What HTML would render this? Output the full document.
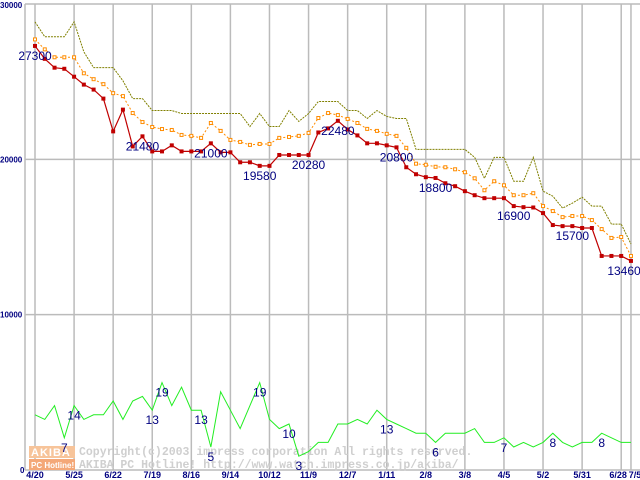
<!DOCTYPE html>
<html><head><meta charset="utf-8"><style>
body{margin:0;background:#fff}
svg{display:block;font-family:"Liberation Sans",sans-serif}
</style></head><body>
<svg id="chart" width="640" height="480" viewBox="0 0 640 480" xmlns="http://www.w3.org/2000/svg">
<g id="grid"></g>
<g id="wm">
<rect x="29" y="446" width="46" height="12" fill="#f7c49a"/>
<text x="31" y="456" font-size="11" font-weight="bold" fill="#fff" letter-spacing="1">AKIBA</text>
<rect x="29" y="459" width="46" height="11" fill="#f4a878"/>
<text x="31" y="468" font-size="8" font-weight="bold" fill="#fff">PC Hotline!</text>
<text x="79" y="455" font-size="11.5" font-weight="bold" fill="#cfcfcf" font-family="Liberation Mono,monospace">Copyright(c)2003 impress corporation All rights reserved.</text>
<text x="79" y="468" font-size="11.5" font-weight="bold" fill="#cfcfcf" font-family="Liberation Mono,monospace">AKIBA PC Hotline!  http://www.watch.impress.co.jp/akiba/</text>
</g>
<g id="series"></g>
<g id="labels"></g>
</svg>
<script>
const xTickLabels=["4/20","5/25","6/22","7/19","8/16","9/14","10/12","11/9","12/7","1/11","2/8","3/8","4/5","5/2","5/31","6/28","7/5"];
const yTicks=[0,10000,20000,30000];
const minPrice=[27300,26470,25900,25830,25320,24810,24490,23910,21800,23200,20830,21480,20510,20510,20900,20510,20510,20510,21030,20450,20450,19810,19810,19580,19580,20280,20280,20280,20280,21730,21990,22480,21920,21540,21030,21030,20900,20770,19490,19040,18850,18800,18460,18270,17950,17690,17500,17500,17500,16990,16920,16900,16540,15770,15700,15700,15580,15580,13780,13780,13780,13460];
const avgPrice=[27720,27080,26570,26570,26570,25540,25160,24840,24260,24070,22980,22400,22080,21950,21890,21570,21510,21380,22340,21830,21250,21120,20930,20990,20990,21380,21440,21510,21700,22660,22980,22850,22600,22340,21960,21830,21640,21510,20740,19720,19650,19520,19490,19360,19170,18780,18010,18590,18330,17690,17690,17820,16990,16670,16280,16350,16350,16090,15510,14940,15000,13780];
const maxPrice=[28850,27890,27890,27890,28850,26920,25900,25900,25900,25060,23910,23910,23140,23140,23140,22950,22950,22950,22950,22950,22950,22950,22110,22950,22110,22110,23140,22440,22950,23720,23720,23720,23140,23140,22630,23140,22760,22630,22630,20640,20640,20640,20640,20640,20640,20130,18780,20130,20130,18590,18590,20130,17950,17630,16860,17180,17560,16990,16990,15830,15830,14550];
const counts=[12,11,14,7,14,11,12,12,15,11,15,16,13,19,14,18,13,13,5,17,13,9,14,19,11,9,10,3,4,6,6,10,10,11,10,13,11,10,9,8,8,6,8,8,8,9,6,6,7,5,6,5,6,8,6,5,6,6,8,7,6,6];
const priceLabels=[[0,"27300"],[11,"21480"],[18,"21000"],[23,"19580"],[28,"20280"],[31,"22480"],[37,"20800"],[41,"18800"],[49,"16900"],[55,"15700"],[61,"13460"]];
const countLabels=[[3,"7"],[4,"14"],[12,"13"],[13,"19"],[17,"13"],[18,"5"],[23,"19"],[26,"10"],[27,"3"],[36,"13"],[41,"6"],[48,"7"],[53,"8"],[58,"8"]];
const NS="http://www.w3.org/2000/svg";
const X=i=>35+i*9.77;
const PY=v=>470-v/30000*466;
const CY=c=>470-c*4.6;
function mk(tag,attrs,parent){const e=document.createElementNS(NS,tag);for(const k in attrs)e.setAttribute(k,attrs[k]);parent.appendChild(e);return e;}
const grid=document.getElementById('grid'),ser=document.getElementById('series'),lab=document.getElementById('labels');
const tickIdx=[];for(let i=0;i<=60;i+=4)tickIdx.push(i);tickIdx.push(61);
tickIdx.forEach((ti,k)=>{
 const l=mk('line',{x1:X(ti),x2:X(ti),y1:4,y2:470,stroke:'#bbb','stroke-width':1.5},grid);
 
 
 const t=mk('text',{x:X(ti)+(k==16?4:(k==15?-3:0)),y:478,'font-size':9,'font-weight':'bold',fill:'#000080','text-anchor':'middle'},grid);
 t.textContent=xTickLabels[k];
 
 
});
yTicks.forEach(v=>{
 const l=mk('line',{x1:25,x2:640,y1:PY(v),y2:PY(v),stroke:'#bbb','stroke-width':1.5},grid);
 
 
 const t=mk('text',{x:v==0?20:0,y:PY(v)+(v==30000?4:3),'font-size':8,'font-weight':'bold',fill:'#000080'},grid);
 t.textContent=String(v);
 
 
});
const ax=mk('line',{x1:25,x2:25,y1:4,y2:470,stroke:'#bbb','stroke-width':1.5},grid);


function poly(arr,yf,attrs,name){
 const p=mk('polyline',Object.assign({points:arr.map((v,i)=>X(i)+','+yf(v)).join(' '),fill:'none'},attrs),ser);
 
 
}
poly(maxPrice,PY,{stroke:'#808000','stroke-width':1,'stroke-dasharray':'2,1'},'max-price-line');
poly(avgPrice,PY,{stroke:'#ff8c00','stroke-width':1,'stroke-dasharray':'2,2'},'avg-price-line');
avgPrice.forEach((v,i)=>{const r=mk('rect',{x:X(i)-1.5,y:PY(v)-1.5,width:3,height:3,fill:'#fff',stroke:'#ff8c00','stroke-width':1},ser);
 
 });
poly(minPrice,PY,{stroke:'#c00000','stroke-width':1.2},'min-price-line');
minPrice.forEach((v,i)=>{const r=mk('rect',{x:X(i)-2,y:PY(v)-2,width:4,height:4,fill:'#c00000'},ser);
 
 });
poly(counts,CY,{stroke:'#22ee22','stroke-width':1},'shop-count-line');
priceLabels.forEach(([i,s])=>{const t=mk('text',{x:Math.min(X(i),624),y:PY(minPrice[i])+14,'font-size':12,fill:'#000080','text-anchor':'middle'},lab);t.textContent=s;
 
 });
countLabels.forEach(([i,s])=>{const t=mk('text',{x:X(i),y:CY(counts[i])+14,'font-size':12,fill:'#000080','text-anchor':'middle'},lab);t.textContent=s;
 
 });
</script>
</body></html>
